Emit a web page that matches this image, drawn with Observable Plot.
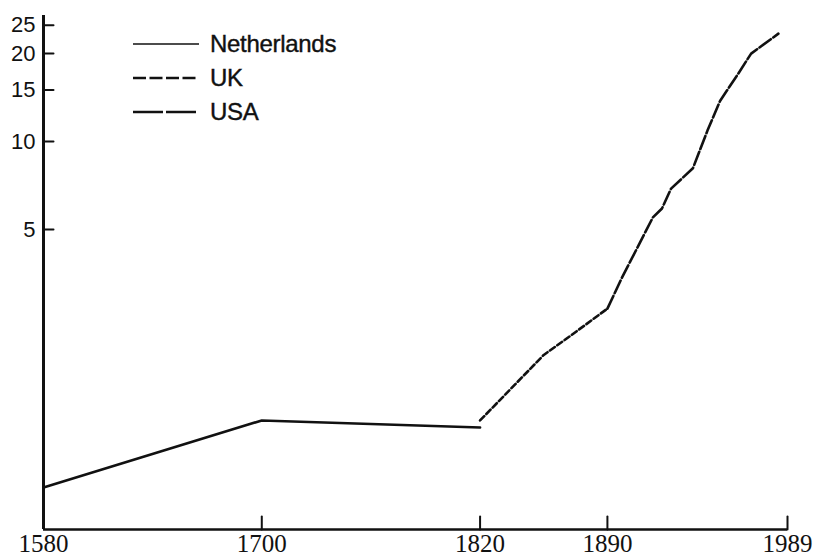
<!DOCTYPE html>
<html>
<head>
<meta charset="utf-8">
<script src="https://cdn.jsdelivr.net/npm/d3@7"></script>
<script src="https://cdn.jsdelivr.net/npm/@observablehq/plot@0.6"></script>
<style>
  html, body { margin: 0; padding: 0; background: #fff; }
  #wrap { position: relative; width: 815px; height: 557px; overflow: hidden; }
  #legend { position: absolute; left: 133px; top: 27px; font-family: "Liberation Sans", Arial, sans-serif; font-size: 24px; color: #111; -webkit-text-stroke: 0.4px #111; letter-spacing: -0.3px; }
  .row { display: flex; align-items: center; height: 34px; }
  .row svg { width: 66px; height: 10px; margin-right: 11px; }
</style>
</head>
<body>
<div id="wrap"><div id="legend"></div></div>
<script>
// ---- data ----
const seriesNames = ["Netherlands", "UK", "USA"];
const nlYears  = [1580, 1700, 1820];
const nlValues = [0.655, 1.11, 1.05];
const ukYears  = [1820, 1855, 1870, 1890];
const ukValues = [1.11, 1.86, 2.17, 2.68];
const usaYears  = [1890, 1898, 1915, 1920, 1925, 1937, 1945, 1952, 1962, 1969, 1984];
const usaValues = [2.68, 3.42, 5.5, 5.9, 6.9, 8.1, 10.9, 13.8, 17.1, 20.0, 23.4];
const xTicks = [1580, 1700, 1820, 1890, 1989];
const yTicks = [5, 10, 15, 20, 25];

// ---- styles ----
const ink = "#111";
const dashes = {Netherlands: null, UK: "6,3", USA: "14,3"};
const legendDashes = {Netherlands: null, UK: "13,3.5", USA: "30,3"};

const toRows = (name, years, values) => years.map((y, i) => ({series: name, year: y, value: values[i]}));
const nl = toRows("Netherlands", nlYears, nlValues);
const uk = toRows("UK", ukYears, ukValues);
const usa = toRows("USA", usaYears, usaValues);

const xDomain = [xTicks[0], xTicks[xTicks.length - 1]];
const yDomain = [0.47, 27];

const tickShape = {draw(context, l) { context.moveTo(0, 0); context.lineTo(0, -l); }};

const chart = Plot.plot({
  width: 815,
  height: 557,
  marginLeft: 43,
  marginRight: 28,
  marginTop: 15,
  marginBottom: 28,
  style: {background: "transparent", color: ink},
  x: {type: "linear", domain: xDomain, label: null},
  y: {type: "log", domain: yDomain, label: null},
  marks: [
    Plot.axisY({ticks: yTicks, tickSize: 0, tickPadding: 8, tickFormat: d => String(d), label: null,
      fontSize: 22, fontFamily: "Liberation Sans, Arial, sans-serif", fill: ink}),
    Plot.axisX({ticks: xTicks, tickSize: 0, tickPadding: 5, tickFormat: d => String(d), label: null,
      fontSize: 25, fontFamily: "Liberation Serif, Times New Roman, serif", fill: ink}),
    Plot.vector(yTicks, {x: () => xDomain[0], y: d => d, length: 10, rotate: 90, anchor: "start",
      shape: tickShape, stroke: ink, strokeWidth: 2}),
    Plot.vector(xTicks.slice(1), {x: d => d, y: () => yDomain[0], length: 13, rotate: 0, anchor: "start",
      shape: tickShape, stroke: ink, strokeWidth: 2}),
    Plot.ruleX([xDomain[0]], {stroke: ink, strokeWidth: 3}),
    Plot.ruleY([yDomain[0]], {stroke: ink, strokeWidth: 2.5}),
    Plot.line(nl, {x: "year", y: "value", stroke: ink, strokeWidth: 2.6}),
    Plot.line(uk, {x: "year", y: "value", stroke: ink, strokeWidth: 2.6, strokeDasharray: dashes.UK}),
    Plot.line(usa, {x: "year", y: "value", stroke: ink, strokeWidth: 2.6, strokeDasharray: dashes.USA})
  ]
});
document.getElementById("wrap").prepend(chart);

// ---- legend ----
const legend = document.getElementById("legend");
for (const name of seriesNames) {
  const row = document.createElement("div");
  row.className = "row";
  const da = legendDashes[name];
  row.innerHTML = `<svg viewBox="0 0 66 10"><line x1="0" x2="66" y1="5" y2="5" stroke="${ink}" stroke-width="${name === "Netherlands" ? 1.6 : 2.6}" ${da ? `stroke-dasharray="${da}"` : ""}/></svg><span>${name}</span>`;
  legend.appendChild(row);
}
</script>
</body>
</html>
